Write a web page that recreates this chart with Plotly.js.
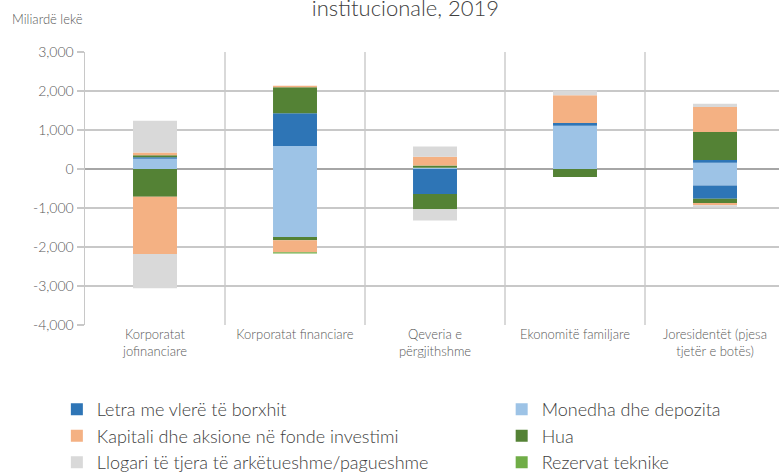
<!DOCTYPE html>
<html>
<head>
<meta charset="utf-8">
<script src="https://cdn.plot.ly/plotly-3.0.1.min.js"></script>
<style>html,body{margin:0;padding:0;background:#fff;overflow:hidden;}</style>
</head>
<body>
<div id="chart" style="width:779px;height:473px;"></div>
<script>
// Categories (institutional sectors)
const categories = ['Korporatat<br>jofinanciare', 'Korporatat financiare', 'Qeveria e<br>përgjithshme', 'Ekonomitë familjare', 'Joresidentët (pjesa<br>tjetër e botës)'];

// Assets (positive), billion lekë
const monedhaAssets  = [265, 590, 30, 1110, 160];
const letraAssets    = [35, 838, 0, 70, 70];
const huaAssets      = [50, 667, 60, 0, 718];
const kapitaliAssets = [75, 40, 222, 710, 640];
const rezervatAssets = [0, 0, 0, 0, 0];
const llogariAssets  = [810, 0, 265, 120, 85];

// Liabilities (negative), billion lekë
const monedhaLiab  = [0, -1744, 0, 0, -420];
const letraLiab    = [0, 0, -640, 0, -340];
const huaLiab      = [-710, -85, -393, -205, -110];
const kapitaliLiab = [-1470, -308, 0, 0, -60];
const rezervatLiab = [0, -30, 0, 0, 0];
const llogariLiab  = [-880, 0, -290, 0, -60];

// Axis ticks
const yTickVals = [-4000, -3000, -2000, -1000, 0, 1000, 2000, 3000];
const yTickText = ['-4,000', '-3,000', '-2,000', '-1,000', '0', '1,000', '2,000', '3,000'];

const series = [
  {name: 'Monedha dhe depozita', color: '#9dc3e6', pos: monedhaAssets, neg: monedhaLiab, legend: 'legend2', rank: 1},
  {name: 'Letra me vlerë të borxhit', color: '#2e75b6', pos: letraAssets, neg: letraLiab, legend: 'legend', rank: 1},
  {name: 'Hua', color: '#548235', pos: huaAssets, neg: huaLiab, legend: 'legend2', rank: 2},
  {name: 'Kapitali dhe aksione në fonde investimi', color: '#f4b183', pos: kapitaliAssets, neg: kapitaliLiab, legend: 'legend', rank: 2},
  {name: 'Rezervat teknike', color: '#70ad47', pos: rezervatAssets, neg: rezervatLiab, legend: 'legend2', rank: 3},
  {name: 'Llogari të tjera të arkëtueshme/pagueshme', color: '#d9d9d9', pos: llogariAssets, neg: llogariLiab, legend: 'legend', rank: 3}
];

const FONT = 'Lato, "Open Sans", sans-serif';
const traces = [];
series.forEach(s => {
  traces.push({type: 'bar', x: categories, y: s.pos, name: s.name, legendgroup: s.name,
    legend: s.legend, legendrank: s.rank, marker: {color: s.color, line: {width: 0}},
    width: 0.314, showlegend: true, hoverinfo: 'skip'});
  traces.push({type: 'bar', x: categories, y: s.neg, name: s.name, legendgroup: s.name,
    legend: s.legend, marker: {color: s.color, line: {width: 0}},
    width: 0.314, showlegend: false, hoverinfo: 'skip'});
});

const legendCommon = {
  orientation: 'v', xref: 'container', yref: 'container', xanchor: 'left', yanchor: 'top',
  bgcolor: 'rgba(0,0,0,0)', borderwidth: 0, traceorder: 'normal', tracegroupgap: 6,
  font: {family: FONT, size: 18, color: '#404040', weight: 300}, itemclick: false, itemdoubleclick: false
};

const layout = {
  width: 779, height: 473,
  paper_bgcolor: '#ffffff', plot_bgcolor: '#ffffff',
  margin: {l: 85, r: 0, t: 52, b: 148, autoexpand: false},
  barmode: 'relative',
  font: {family: FONT, color: '#595959'},
  title: {text: 'institucionale, 2019', font: {family: FONT, size: 22, color: '#404040', weight: 300},
    xref: 'container', yref: 'container', x: 0.5205, xanchor: 'center', y: 0.983, yanchor: 'middle'},
  xaxis: {type: 'category', range: [-0.5, 4.457], tickson: 'boundaries', showgrid: true,
    gridcolor: '#d9d9d9', gridwidth: 1.5, ticks: '', showline: false, zeroline: false,
    tickfont: {family: FONT, size: 13, color: '#595959', weight: 300}, fixedrange: true},
  yaxis: {range: [-4000, 3000], tickvals: yTickVals, ticktext: yTickText,
    showgrid: true, gridcolor: '#c8c8c8', gridwidth: 1.5,
    zeroline: true, zerolinecolor: '#a6a6a6', zerolinewidth: 2,
    showline: true, linecolor: '#c8c8c8', linewidth: 1.5,
    ticks: 'outside', ticklen: 7, tickcolor: '#c8c8c8', tickwidth: 1.5,
    tickfont: {family: FONT, size: 14, color: '#595959', weight: 300}, fixedrange: true},
  legend: Object.assign({}, legendCommon, {x: 0.073, y: 0.173}),
  legend2: Object.assign({}, legendCommon, {x: 0.644, y: 0.173}),
  annotations: [{text: 'Miliardë lekë', xref: 'paper', yref: 'paper', x: -0.108, y: 1.121,
    xanchor: 'left', yanchor: 'middle', showarrow: false,
    font: {family: FONT, size: 13, color: '#595959', weight: 300}}]
};

Plotly.newPlot('chart', traces, layout, {displayModeBar: false, staticPlot: true});
</script>
</body>
</html>
